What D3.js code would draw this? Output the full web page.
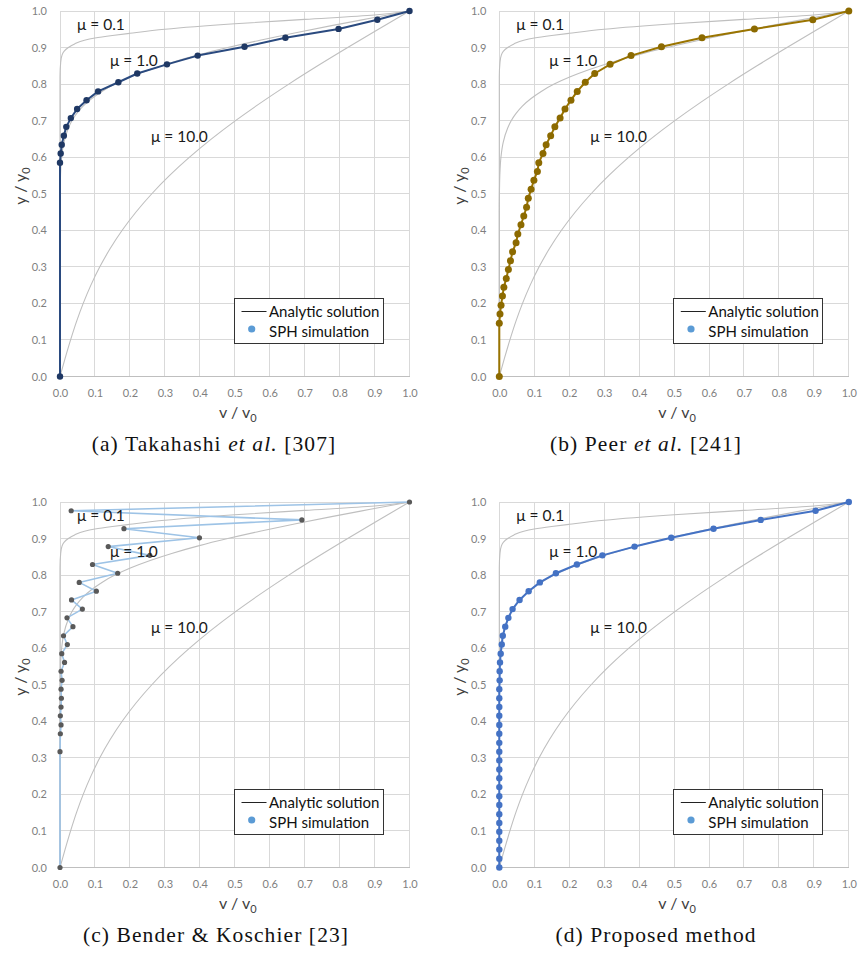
<!DOCTYPE html>
<html><head><meta charset="utf-8">
<script src="https://cdn.jsdelivr.net/npm/d3@7"></script>
<style>body{margin:0;background:#fff} svg{display:block}</style>
</head><body>
<svg id="c" width="860" height="954"></svg>
<script>
// ---- tick values / labels ----
const ticks = [0,0.1,0.2,0.3,0.4,0.5,0.6,0.7,0.8,0.9,1.0];
const tickLabels = ["0.0","0.1","0.2","0.3","0.4","0.5","0.6","0.7","0.8","0.9","1.0"];
const muLabels = ["μ = 0.1","μ = 1.0","μ = 10.0"];
const legendLabels = ["Analytic solution","SPH simulation"];

// ---- analytic solutions (v/v0, y/y0) ----
const mu01V = [0, 0, 0.002, 0.006, 0.012, 0.024, 0.042, 0.070, 0.100, 0.150, 0.200, 0.300, 0.500, 0.700, 0.900, 1.0];
const mu01Y = [0, 0.82, 0.86, 0.88, 0.89, 0.90, 0.91, 0.92, 0.926, 0.933, 0.939, 0.950, 0.965, 0.977, 0.989, 1.0];
const mu1V = [0, 0, 0.0004, 0.0015, 0.0047, 0.011, 0.024, 0.034, 0.048, 0.066, 0.090, 0.120, 0.157, 0.203, 0.258, 0.322, 0.396, 0.480, 0.572, 0.671, 0.777, 0.888, 1.0];
const mu1Y = [0, 0.45, 0.50, 0.55, 0.60, 0.64, 0.68, 0.70, 0.72, 0.74, 0.76, 0.78, 0.80, 0.82, 0.84, 0.86, 0.88, 0.90, 0.92, 0.94, 0.96, 0.98, 1.0];
const mu10V = [0, 0.0148, 0.0303, 0.0472, 0.0664, 0.0884, 0.1139, 0.1436, 0.1779, 0.2175, 0.2627, 0.3137, 0.3707, 0.4336, 0.5022, 0.5761, 0.6547, 0.7373, 0.8231, 0.911, 1.0];
const mu10Y = [0, 0.05, 0.10, 0.15, 0.20, 0.25, 0.30, 0.35, 0.40, 0.45, 0.50, 0.55, 0.60, 0.65, 0.70, 0.75, 0.80, 0.85, 0.90, 0.95, 1.0];

// ---- SPH simulation points ----
const simAV = [0, 0, 0.002, 0.005, 0.011, 0.018, 0.031, 0.049, 0.076, 0.109, 0.167, 0.221, 0.306, 0.394, 0.528, 0.645, 0.797, 0.908, 1.0];
const simAY = [0, 0.585, 0.610, 0.634, 0.659, 0.683, 0.707, 0.732, 0.756, 0.780, 0.805, 0.829, 0.854, 0.878, 0.902, 0.927, 0.951, 0.976, 1.0];

const simBV = [0, 0, 0.002, 0.005, 0.009, 0.013, 0.020, 0.026, 0.032, 0.038, 0.048, 0.053, 0.062, 0.070, 0.078, 0.083, 0.091, 0.099, 0.109, 0.113, 0.125, 0.134, 0.147, 0.159, 0.174, 0.188, 0.205, 0.223, 0.246, 0.273, 0.317, 0.377, 0.464, 0.580, 0.730, 0.897, 1.0];
const simBY = [0, 0.146, 0.171, 0.195, 0.220, 0.244, 0.268, 0.293, 0.317, 0.341, 0.366, 0.390, 0.415, 0.439, 0.463, 0.488, 0.512, 0.537, 0.561, 0.585, 0.610, 0.634, 0.659, 0.683, 0.707, 0.732, 0.756, 0.780, 0.805, 0.829, 0.854, 0.878, 0.902, 0.927, 0.951, 0.976, 1.0];

const simCV = [0, 0, 0.001, 0.003, 0.001, 0.003, 0.004, 0.003, 0.006, 0.003, 0.013, 0.005, 0.021, 0.010, 0.037, 0.020, 0.064, 0.033, 0.104, 0.055, 0.165, 0.093, 0.257, 0.138, 0.399, 0.183, 0.692, 0.032, 1.0];
const simCY = [0, 0.317, 0.366, 0.390, 0.415, 0.439, 0.463, 0.488, 0.512, 0.537, 0.561, 0.585, 0.610, 0.634, 0.659, 0.683, 0.707, 0.732, 0.756, 0.780, 0.805, 0.829, 0.854, 0.878, 0.902, 0.927, 0.951, 0.976, 1.0];

const simDV = [0, 0, 0, 0, 0, 0, 0, 0, 0, 0, 0, 0, 0, 0, 0, 0, 0, 0, 0, 0, 0, 0.001, 0.001, 0.002, 0.004, 0.007, 0.010, 0.017, 0.026, 0.038, 0.058, 0.084, 0.116, 0.162, 0.222, 0.295, 0.387, 0.492, 0.613, 0.748, 0.905, 1.0];
const simDY = [0, 0.024, 0.049, 0.073, 0.098, 0.122, 0.146, 0.171, 0.195, 0.220, 0.244, 0.268, 0.293, 0.317, 0.341, 0.366, 0.390, 0.415, 0.439, 0.463, 0.488, 0.512, 0.537, 0.561, 0.585, 0.610, 0.634, 0.659, 0.683, 0.707, 0.732, 0.756, 0.780, 0.805, 0.829, 0.854, 0.878, 0.902, 0.927, 0.951, 0.976, 1.0];

const captionA = [["(a) Takahashi ", false], ["et al.", true], [" [307]", false]];
const captionB = [["(b) Peer ", false], ["et al.", true], [" [241]", false]];
const captionC = [["(c) Bender & Koschier [23]", false]];
const captionD = [["(d) Proposed method", false]];

const zip = (a, b) => a.map((d, i) => [d, b[i]]);

const panels = [
  {left: 60,    top: 11,  v: simAV, y: simAY, line: "#2A4A7F", dot: "#1F3864", lw: 2,   r: 3.2, cap: captionA, capX: 214, capY: 451},
  {left: 499.3, top: 11,  v: simBV, y: simBY, line: "#9A7400", dot: "#8C6A00", lw: 2,   r: 3.5, cap: captionB, capX: 646, capY: 451},
  {left: 60,    top: 502, v: simCV, y: simCY, line: "#9DC3E6", dot: "#595959", lw: 1.6, r: 2.6, cap: captionC, capX: 216, capY: 942},
  {left: 499.3, top: 502, v: simDV, y: simDY, line: "#4472C4", dot: "#4472C4", lw: 2,   r: 3.2, cap: captionD, capX: 656, capY: 942}
];
const W = 349.5, H = 365.5;
const sans = "Lato, 'Open Sans', sans-serif";
const svg = d3.select("#c");

panels.forEach(p => {
  const x = d3.scaleLinear().domain([0, 1]).range([p.left, p.left + W]);
  const y = d3.scaleLinear().domain([0, 1]).range([p.top + H, p.top]);
  const g = svg.append("g");

  // grid
  const grid = g.append("g").attr("stroke", "#D9D9D9").attr("stroke-width", 1).attr("shape-rendering", "crispEdges");
  ticks.forEach(t => {
    grid.append("line").attr("x1", x(t)).attr("x2", x(t)).attr("y1", y(0)).attr("y2", y(1));
    grid.append("line").attr("x1", x(0)).attr("x2", x(1)).attr("y1", y(t)).attr("y2", y(t));
  });
  g.append("line").attr("x1", x(0)).attr("x2", x(1)).attr("y1", y(0)).attr("y2", y(0))
    .attr("stroke", "#BFBFBF").attr("shape-rendering", "crispEdges");

  // axes
  const fmt = (d, i) => tickLabels[i];
  const ax = g.append("g").attr("transform", `translate(0,${y(0)})`)
    .call(d3.axisBottom(x).tickValues(ticks).tickFormat(fmt).tickSize(0).tickPadding(13));
  const ay = g.append("g").attr("transform", `translate(${x(0)},0)`)
    .call(d3.axisLeft(y).tickValues(ticks).tickFormat(fmt).tickSize(0).tickPadding(13));
  [ax, ay].forEach(a => {
    a.select(".domain").remove();
    a.selectAll("text").attr("fill", "#7F7F7F").style("font-family", sans).style("font-size", "11px");
  });

  // axis titles
  const xt = g.append("text").attr("x", p.left + W / 2 + 3).attr("y", p.top + 407)
    .attr("text-anchor", "middle").attr("fill", "#404040").style("font-family", sans).style("font-size", "16px");
  xt.append("tspan").text("v / v");
  xt.append("tspan").attr("dy", 4).style("font-size", "11px").text("0");
  const yt = g.append("text").attr("transform", `translate(${p.left - 34},${p.top + 175}) rotate(-90)`)
    .attr("text-anchor", "middle").attr("fill", "#404040").style("font-family", sans).style("font-size", "16px");
  yt.append("tspan").text("y / y");
  yt.append("tspan").attr("dy", 4).style("font-size", "11px").text("0");

  // analytic curves
  const curve = d3.line().x(d => x(d[0])).y(d => y(d[1])).curve(d3.curveMonotoneY);
  [[mu01V, mu01Y], [mu1V, mu1Y], [mu10V, mu10Y]].forEach(([vv, yy]) => {
    g.append("path").attr("d", curve(zip(vv, yy))).attr("fill", "none")
      .attr("stroke", "#BFBFBF").attr("stroke-width", 1.1);
  });

  // simulation
  const pts = zip(p.v, p.y);
  const lin = d3.line().x(d => x(d[0])).y(d => y(d[1]));
  g.append("path").attr("d", lin(pts)).attr("fill", "none")
    .attr("stroke", p.line).attr("stroke-width", p.lw).attr("stroke-linejoin", "round");
  g.selectAll(null).data(pts).enter().append("circle")
    .attr("cx", d => x(d[0])).attr("cy", d => y(d[1])).attr("r", p.r).attr("fill", p.dot);

  // mu labels
  const muPos = [[17, 18.5], [50, 55], [91, 130.5]];
  muLabels.forEach((t, i) => {
    g.append("text").attr("x", p.left + muPos[i][0]).attr("y", p.top + muPos[i][1])
      .attr("fill", "#1a1a1a").style("font-family", sans).style("font-size", "15.5px").text(t);
  });

  // legend
  const lg = g.append("g").attr("transform", `translate(${p.left + 174},${p.top + 287})`);
  lg.append("rect").attr("width", 149).attr("height", 45).attr("fill", "#fff")
    .attr("stroke", "#333").attr("stroke-width", 1).attr("shape-rendering", "crispEdges");
  lg.append("line").attr("x1", 7.5).attr("x2", 32.5).attr("y1", 13.5).attr("y2", 13.5)
    .attr("stroke", "#222").attr("stroke-width", 1);
  lg.append("circle").attr("cx", 17.7).attr("cy", 31).attr("r", 3.6).attr("fill", "#5B9BD5");
  legendLabels.forEach((t, i) => {
    lg.append("text").attr("x", 35).attr("y", 19 + i * 20).attr("fill", "#111")
      .style("font-family", sans).style("font-size", "15px").text(t);
  });

  // caption
  const ct = svg.append("text").attr("x", p.capX).attr("y", p.capY).attr("text-anchor", "middle")
    .attr("fill", "#111").style("font-family", "'Liberation Serif', 'DejaVu Serif', serif")
    .style("font-size", "21.5px").style("letter-spacing", "1.1px");
  p.cap.forEach(([t, it]) => ct.append("tspan").style("font-style", it ? "italic" : "normal").text(t));
});
</script>
</body></html>
